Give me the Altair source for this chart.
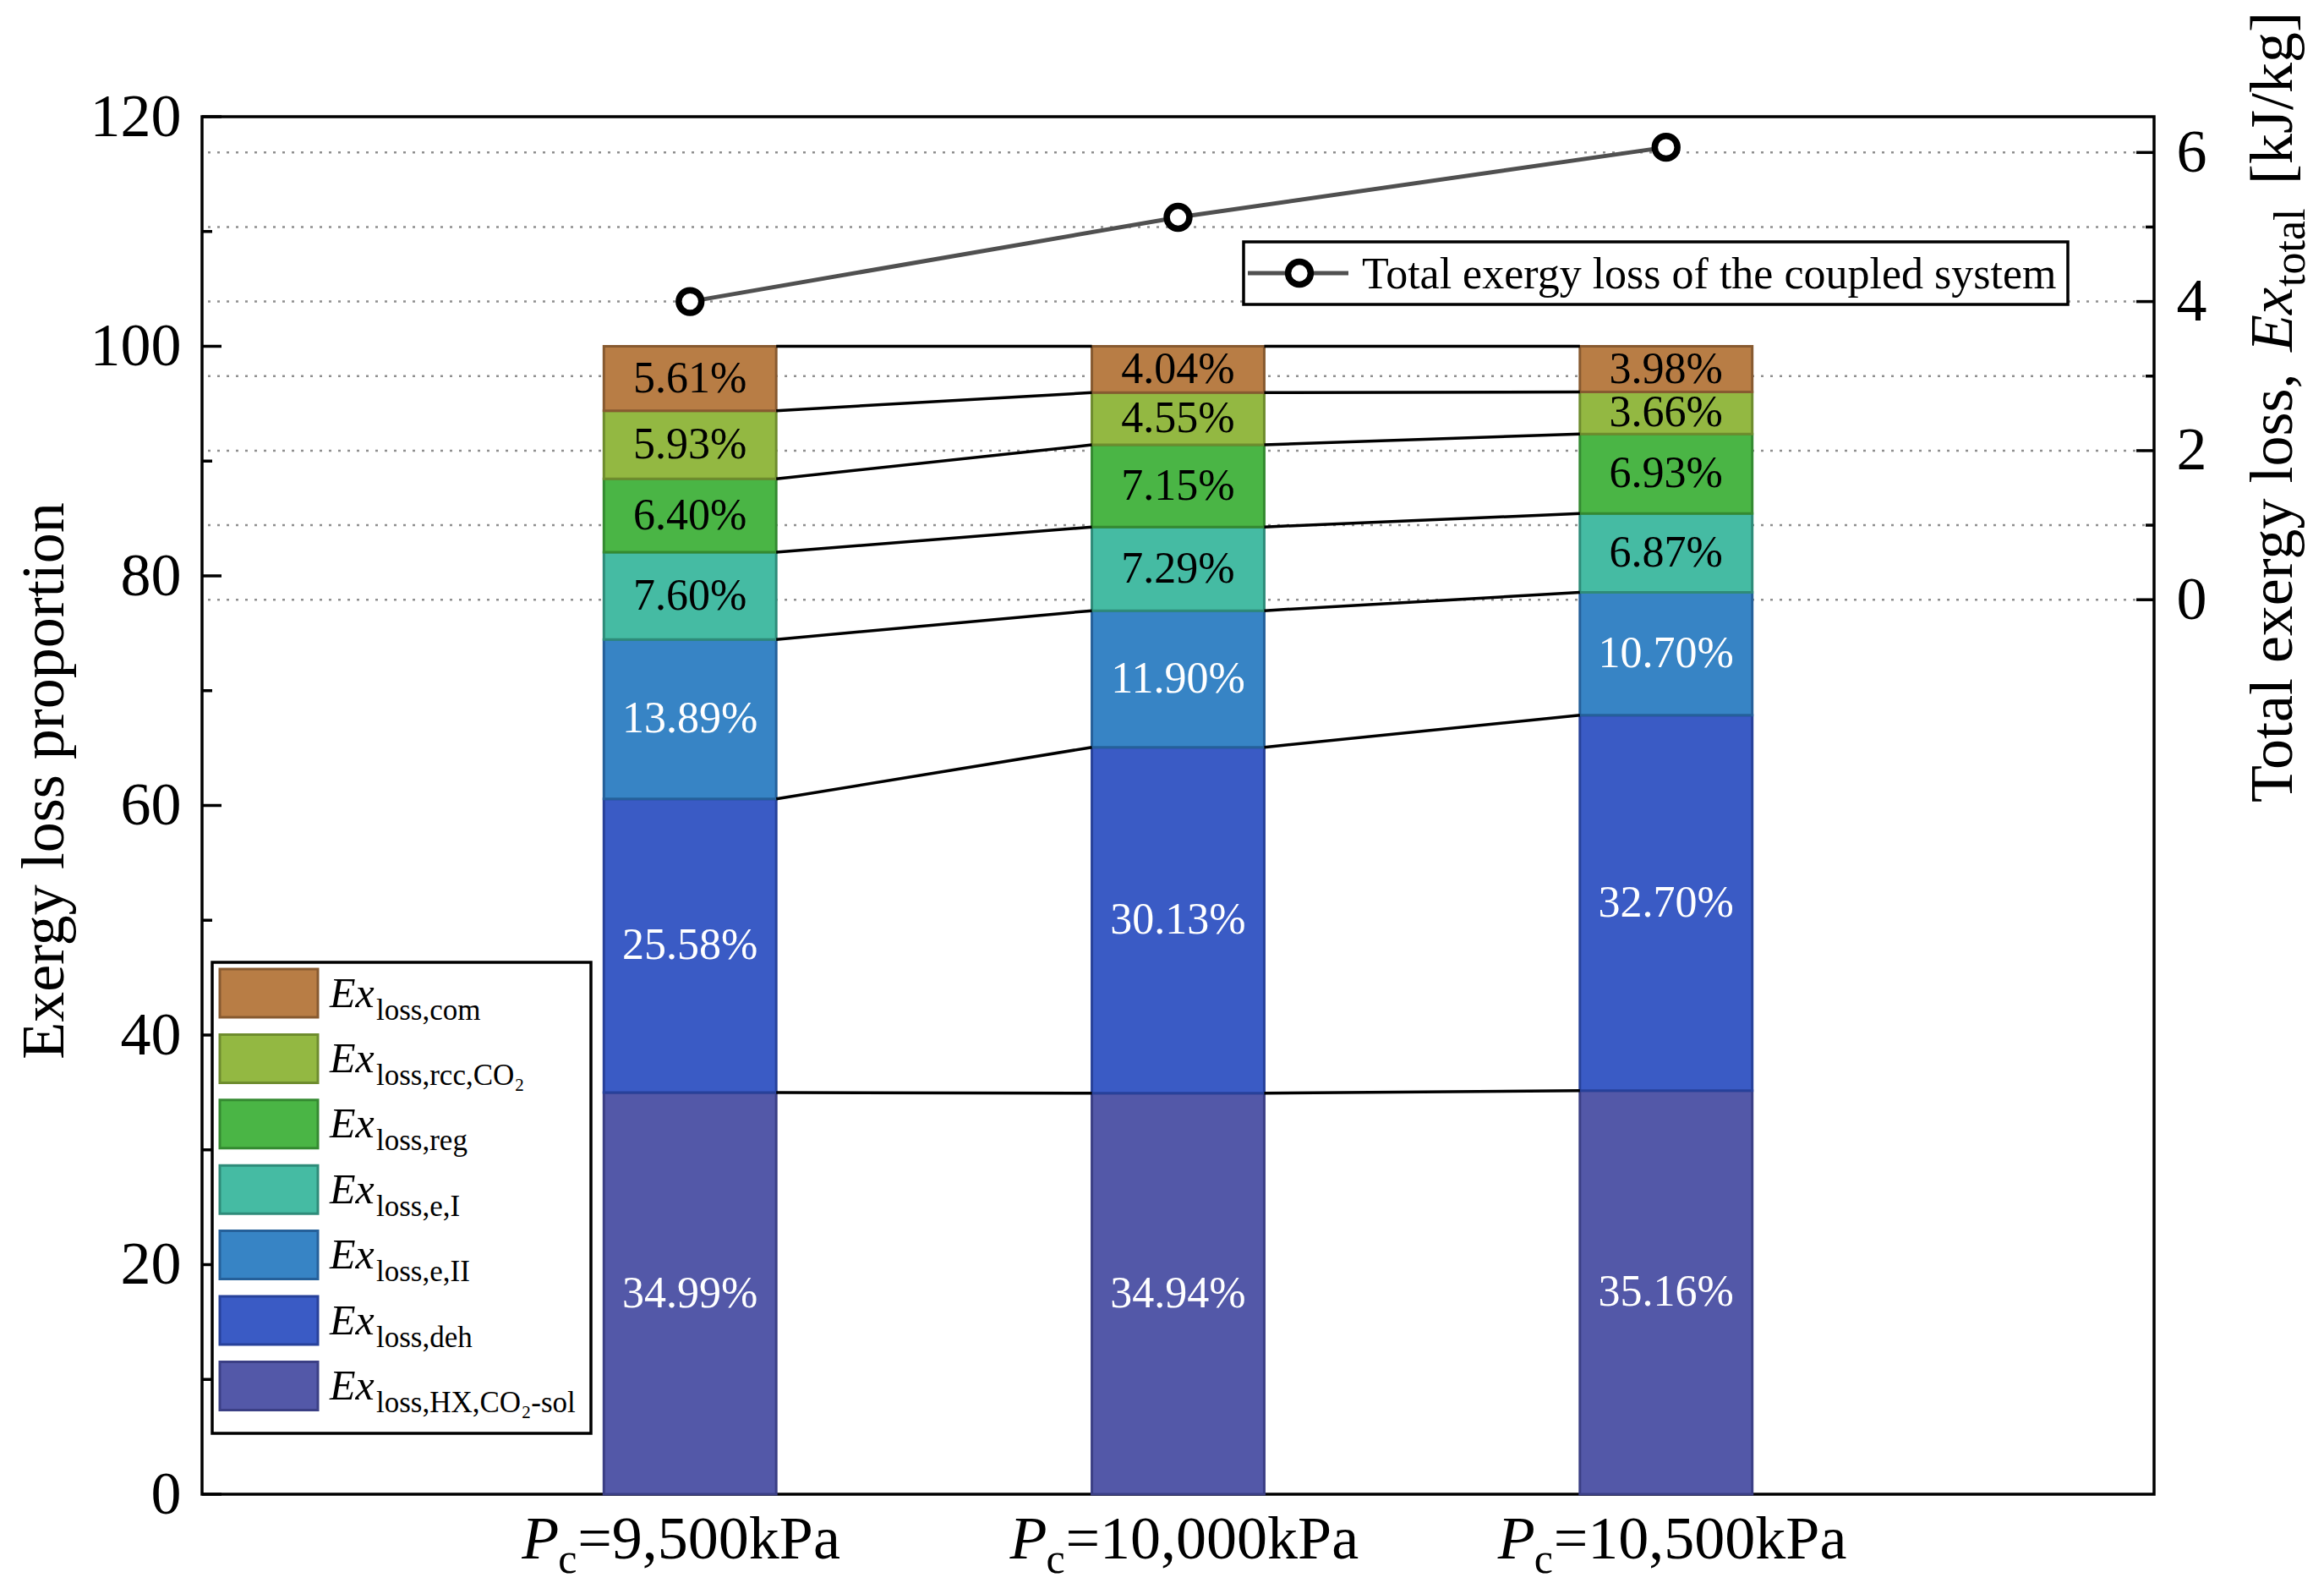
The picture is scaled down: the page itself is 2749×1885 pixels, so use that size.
import altair as alt
import pandas as pd

FONT = "Liberation Serif"

# ---------------- data ----------------
positions = [1, 2, 3]
pressure_text = ["=9,500kPa", "=10,000kPa", "=10,500kPa"]

# components listed bottom -> top of each stacked bar
components = ["HX", "deh", "eII", "eI", "reg", "rcc", "com"]
legend_subs = ["loss,HX,CO\u2082-sol", "loss,deh", "loss,e,II", "loss,e,I",
               "loss,reg", "loss,rcc,CO\u2082", "loss,com"]
fill_colors = ["#5358A8", "#3A5BC5", "#3784C5", "#45BBA3", "#4AB545", "#93B842", "#B87D45"]
edge_colors = ["#3B3F85", "#27419A", "#25609A", "#2E8B79", "#348A31", "#6E8C2E", "#875A30"]

share_9500 = [34.99, 25.58, 13.89, 7.60, 6.40, 5.93, 5.61]
share_10000 = [34.94, 30.13, 11.90, 7.29, 7.15, 4.55, 4.04]
share_10500 = [35.16, 32.70, 10.70, 6.87, 6.93, 3.66, 3.98]

total_loss = [4.00, 5.13, 6.07]

left_major = [0, 20, 40, 60, 80, 100, 120]
left_minor = [10, 30, 50, 70, 90, 110]
right_major = [0, 2, 4, 6]
right_minor = [1, 3, 5]
right_grid = [0, 1, 2, 3, 4, 5, 6]

# ---------------- layout constants ----------------
W, H = 2309, 1629
HW = 0.1766  # half bar width in x units

rows = []
for pos, shares in zip(positions, [share_9500, share_10000, share_10500]):
    for i, (c, v) in enumerate(zip(components, shares)):
        rows.append({"pos": pos, "comp": c, "order": i, "val": v})
bar_df = pd.DataFrame(rows)

leg_df = pd.DataFrame({
    "comp": components[::-1],
    "sub": legend_subs[::-1],
    "row": list(range(len(components))),
})

xs = alt.Scale(domain=[0, 4], nice=False, zero=False, padding=0)
yl = alt.Scale(domain=[0, 120], nice=False, zero=True)
yr = alt.Scale(domain=[-12, 6.48], nice=False, zero=False)
fill_scale = alt.Scale(domain=components, range=fill_colors)
edge_scale = alt.Scale(domain=components, range=edge_colors)

left_axis = alt.Axis(values=left_major, ticks=False, tickSize=0, domain=False, grid=False,
                     labelFont=FONT, labelFontSize=72, labelColor="black", labelPadding=25,
                     title="Exergy loss proportion", titleFont=FONT, titleFontSize=72,
                     titleFontWeight="normal", titleColor="black", titleAngle=270,
                     titleX=-165, titleY=785, titleAlign="center", titleBaseline="alphabetic")
right_axis = alt.Axis(orient="right", values=right_major, ticks=False, tickSize=0, domain=False,
                      grid=False, labelFont=FONT, labelFontSize=72, labelColor="black",
                      labelPadding=26, title="")

stack_kw = dict(stack="val", groupby=["pos"], as_=["y0", "y1"],
                sort=[alt.SortField("order", order="ascending")])

base = alt.Chart(bar_df)

# ---------------- right grid (behind) ----------------
grid = alt.Chart(pd.DataFrame({"v": right_grid})).mark_rule(
    color="#8f8f8f", strokeWidth=2.5, strokeDash=[3, 8]
).encode(y=alt.Y("v:Q", scale=yr, axis=None))
grid_group = alt.layer(grid)

# ---------------- left group ----------------
bars = base.transform_stack(**stack_kw).transform_calculate(
    xa=f"datum.pos - {HW}", xb=f"datum.pos + {HW}"
).mark_rect(strokeWidth=3).encode(
    x=alt.X("xa:Q", scale=xs, axis=None), x2="xb:Q",
    y=alt.Y("y0:Q", scale=yl, axis=left_axis), y2="y1:Q",
    fill=alt.Fill("comp:N", scale=fill_scale, legend=None),
    stroke=alt.Stroke("comp:N", scale=edge_scale, legend=None),
)

connectors = base.transform_stack(**stack_kw).transform_window(
    ny1="lead(y1)", npos="lead(pos)", groupby=["comp"], sort=[alt.SortField("pos")]
).transform_filter("isValid(datum.npos)").transform_calculate(
    xa=f"datum.pos + {HW}", xb=f"datum.npos - {HW}"
).mark_rule(color="black", strokeWidth=3.5).encode(
    x=alt.X("xa:Q", scale=xs, axis=None), x2="xb:Q",
    y=alt.Y("y1:Q", scale=yl, axis=left_axis), y2="ny1:Q",
)

seg_labels = base.transform_stack(**stack_kw).transform_calculate(
    mid="(datum.y0 + datum.y1) / 2",
    lab="format(datum.val, '.2f') + '%'",
    tc="datum.order < 3 ? 'white' : 'black'",
).mark_text(font=FONT, fontSize=52, baseline="middle", align="center").encode(
    x=alt.X("pos:Q", scale=xs, axis=None),
    y=alt.Y("mid:Q", scale=yl, axis=left_axis),
    text="lab:N",
    color=alt.Color("tc:N", scale=None),
)

lt_major = alt.Chart(pd.DataFrame({"v": left_major})).mark_rule(color="black", strokeWidth=3.5).encode(
    y=alt.Y("v:Q", scale=yl, axis=left_axis), x=alt.value(0), x2=alt.value(23))
lt_minor = alt.Chart(pd.DataFrame({"v": left_minor})).mark_rule(color="black", strokeWidth=3.5).encode(
    y=alt.Y("v:Q", scale=yl, axis=left_axis), x=alt.value(0), x2=alt.value(12))

xl_df = pd.DataFrame({"pos": positions, "t": pressure_text})
xl_main = alt.Chart(xl_df).mark_text(font=FONT, fontSize=72, align="left", baseline="alphabetic",
                                     dx=-133, color="black").encode(
    x=alt.X("pos:Q", scale=xs, axis=None), y=alt.value(H + 76), text="t:N")
xl_p = alt.Chart(xl_df).mark_text(font=FONT, fontSize=72, fontStyle="italic", align="right",
                                  baseline="alphabetic", dx=-155, color="black", text="P").encode(
    x=alt.X("pos:Q", scale=xs, axis=None), y=alt.value(H + 76))
xl_c = alt.Chart(xl_df).mark_text(font=FONT, fontSize=50, align="left", baseline="alphabetic",
                                  dx=-156, color="black", text="c").encode(
    x=alt.X("pos:Q", scale=xs, axis=None), y=alt.value(H + 93))

left_group = alt.layer(bars, connectors, seg_labels, lt_major, lt_minor, xl_main, xl_p, xl_c)

# ---------------- right group ----------------
line_df = pd.DataFrame({"pos": positions, "total": total_loss})
rt_major = alt.Chart(pd.DataFrame({"v": right_major})).mark_rule(color="black", strokeWidth=3.5).encode(
    y=alt.Y("v:Q", scale=yr, axis=right_axis), x=alt.value(W - 21), x2=alt.value(W))
rt_minor = alt.Chart(pd.DataFrame({"v": right_minor})).mark_rule(color="black", strokeWidth=3.5).encode(
    y=alt.Y("v:Q", scale=yr, axis=right_axis), x=alt.value(W - 10), x2=alt.value(W))
tline = alt.Chart(line_df).mark_line(color="#505050", strokeWidth=5).encode(
    x=alt.X("pos:Q", scale=xs, axis=None), y=alt.Y("total:Q", scale=yr, axis=right_axis))
tpts = alt.Chart(line_df).mark_point(shape="circle", filled=True, fill="white", stroke="black",
                                     strokeWidth=7.5, size=720, opacity=1).encode(
    x=alt.X("pos:Q", scale=xs, axis=None), y=alt.Y("total:Q", scale=yr, axis=right_axis))
right_group = alt.layer(rt_major, rt_minor, tline, tpts)

# ---------------- legends & right title ----------------
one = pd.DataFrame({"a": [0]})
leg_box = alt.Chart(one).mark_rect(fill="white", stroke="black", strokeWidth=3.5).encode(
    x=alt.value(12), x2=alt.value(460), y=alt.value(1000), y2=alt.value(1557))
leg_base = alt.Chart(leg_df).transform_calculate(
    cy="1036.5 + datum.row * 77.4",
    sy0="datum.cy - 28.5", sy1="datum.cy + 28.5",
    ty="datum.cy + 16", sy="datum.cy + 31",
)
swatch = leg_base.mark_rect(strokeWidth=3).encode(
    x=alt.value(21), x2=alt.value(137),
    y=alt.Y("sy0:Q", scale=None, axis=None), y2="sy1:Q",
    fill=alt.Fill("comp:N", scale=fill_scale, legend=None),
    stroke=alt.Stroke("comp:N", scale=edge_scale, legend=None),
)
leg_ex = leg_base.mark_text(font=FONT, fontSize=50, fontStyle="italic", align="left",
                            baseline="alphabetic", color="black", text="Ex").encode(
    x=alt.value(151), y=alt.Y("ty:Q", scale=None, axis=None))
leg_sub = leg_base.mark_text(font=FONT, fontSize=35, align="left", baseline="alphabetic",
                             color="black").encode(
    x=alt.value(206), y=alt.Y("sy:Q", scale=None, axis=None), text="sub:N")

line_box = alt.Chart(one).mark_rect(fill="white", stroke="black", strokeWidth=3.5).encode(
    x=alt.value(1232), x2=alt.value(2207), y=alt.value(148), y2=alt.value(222))
line_sym = alt.Chart(one).mark_rule(color="#505050", strokeWidth=5).encode(
    x=alt.value(1237), x2=alt.value(1356), y=alt.value(185))
line_pt = alt.Chart(one).mark_point(shape="circle", filled=True, fill="white", stroke="black",
                                    strokeWidth=7.5, size=720, opacity=1).encode(
    x=alt.value(1298), y=alt.value(185))
line_txt = alt.Chart(one).mark_text(font=FONT, fontSize=52, align="left", baseline="alphabetic",
                                    color="black", text="Total exergy loss of the coupled system").encode(
    x=alt.value(1372), y=alt.value(203))

TX = W + 163
rt1 = alt.Chart(one).mark_text(font=FONT, fontSize=72, angle=270, align="left", baseline="alphabetic",
                               color="black", text="Total exergy loss,").encode(
    x=alt.value(TX), y=alt.value(811))
rt2 = alt.Chart(one).mark_text(font=FONT, fontSize=72, fontStyle="italic", angle=270, align="left",
                               baseline="alphabetic", color="black", text="Ex").encode(
    x=alt.value(TX), y=alt.value(278))
rt3 = alt.Chart(one).mark_text(font=FONT, fontSize=52, angle=270, align="left", baseline="alphabetic",
                               color="black", text="total").encode(
    x=alt.value(TX + 15), y=alt.value(201))
rt4 = alt.Chart(one).mark_text(font=FONT, fontSize=72, angle=270, align="left", baseline="alphabetic",
                               color="black", text="[kJ/kg]").encode(
    x=alt.value(TX), y=alt.value(80))

legend_group = alt.layer(leg_box, swatch, leg_ex, leg_sub, line_box, line_sym, line_pt, line_txt,
                         rt1, rt2, rt3, rt4)

chart = alt.layer(grid_group, left_group, right_group, legend_group).resolve_scale(
    y="independent"
).properties(
    width=W, height=H,
    autosize=alt.AutoSizeParams(type="none"),
    padding={"left": 231, "top": 130, "right": 192, "bottom": 104},
    background="white",
).configure_view(stroke="black", strokeWidth=3.5)

chart.save("out.html", embed_options={"renderer": "svg", "actions": False})
